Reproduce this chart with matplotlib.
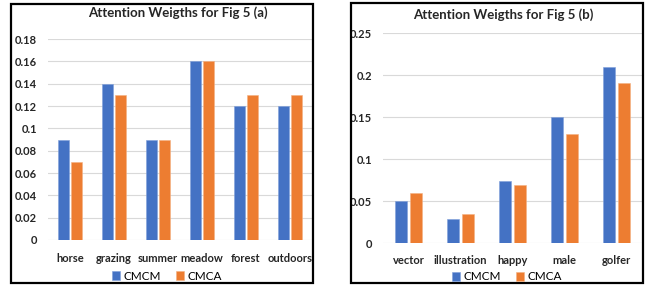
import matplotlib.pyplot as plt
from matplotlib.patches import Rectangle
import numpy as np

plt.rcParams['font.family'] = ['Lato', 'DejaVu Sans']

cats_a = ["horse", "grazing", "summer", "meadow", "forest", "outdoors"]
cmcm_a = [0.09, 0.14, 0.09, 0.16, 0.12, 0.12]
cmca_a = [0.07, 0.13, 0.09, 0.16, 0.13, 0.13]
ticks_a = [0, 0.02, 0.04, 0.06, 0.08, 0.1, 0.12, 0.14, 0.16, 0.18]
ticklabels_a = ["0", "0.02", "0.04", "0.06", "0.08", "0.1", "0.12", "0.14", "0.16", "0.18"]

cats_b = ["vector", "illustration", "happy", "male", "golfer"]
cmcm_b = [0.05, 0.029, 0.074, 0.15, 0.21]
cmca_b = [0.06, 0.035, 0.069, 0.13, 0.19]
ticks_b = [0, 0.05, 0.1, 0.15, 0.2, 0.25]
ticklabels_b = ["0", "0.05", "0.1", "0.15", "0.2", "0.25"]

BLUE = "#4472C4"
ORANGE = "#ED7D31"
W, H = 646, 286

fig = plt.figure(figsize=(W / 100, H / 100), dpi=100)


def px(x0, y0, x1, y1):
    # image pixel box -> figure fraction [left, bottom, width, height]
    return [x0 / W, (H - y1) / H, (x1 - x0) / W, (y1 - y0) / H]


def panel(rect, cats, s1, s2, ticks, labels, width, gap, title, title_xy, leg_xy):
    ax = fig.add_axes(rect)
    x = np.arange(len(cats))
    ax.bar(x - (width + gap) / 2, s1, width, color=BLUE, edgecolor="#7F9FDA", linewidth=0.4, label="CMCM", zorder=3)
    ax.bar(x + (width + gap) / 2, s2, width, color=ORANGE, edgecolor="#F4B183", linewidth=0.4, label="CMCA", zorder=3)
    ax.set_xlim(-0.5, len(cats) - 0.5)
    ax.set_ylim(0, ticks[-1])
    ax.set_yticks(ticks)
    ax.set_yticklabels(labels, fontsize=8, fontweight="bold", color="#262626")
    ax.set_xticks(x)
    ax.set_xticklabels(cats, fontsize=8, fontweight="bold", color="#262626")
    ax.tick_params(length=0, axis="y", pad=8)
    ax.tick_params(length=0, axis="x", pad=9)
    ax.yaxis.grid(True, color="#D9D9D9", linewidth=0.8, zorder=0)
    ax.set_axisbelow(True)
    for s in ax.spines.values():
        s.set_visible(False)
    fig.text(title_xy[0] / W, 1 - title_xy[1] / H, title, ha="center", va="center",
             fontsize=9.5, fontweight="bold", color="#262626")
    fig.legend(handles=ax.get_legend_handles_labels()[0], labels=["CMCM", "CMCA"],
               loc="center", bbox_to_anchor=(leg_xy[0] / W, 1 - leg_xy[1] / H),
               ncol=2, frameon=False, fontsize=8.5, handlelength=0.7, handleheight=0.7,
               handletextpad=0.3, columnspacing=1.2, borderpad=0)
    return ax


panel(px(48, 39, 312, 240), cats_a, cmcm_a, cmca_a, ticks_a, ticklabels_a,
      0.24, 0.05, "Attention Weigths for Fig 5 (a)", (178, 13), (167, 276))
panel(px(383, 33, 642, 243), cats_b, cmcm_b, cmca_b, ticks_b, ticklabels_b,
      0.23, 0.06, "Attention Weigths for Fig 5 (b)", (503, 15), (507, 277))

# black frames around each chart
for (x0, y0, x1, y1) in [(11, 4, 313, 283), (351, 3, 643, 283)]:
    fig.patches.append(Rectangle((x0 / W, (H - y1) / H), (x1 - x0) / W, (y1 - y0) / H,
                                 transform=fig.transFigure, fill=False,
                                 edgecolor="black", linewidth=1.6))

fig.savefig("out.png", dpi=100)
